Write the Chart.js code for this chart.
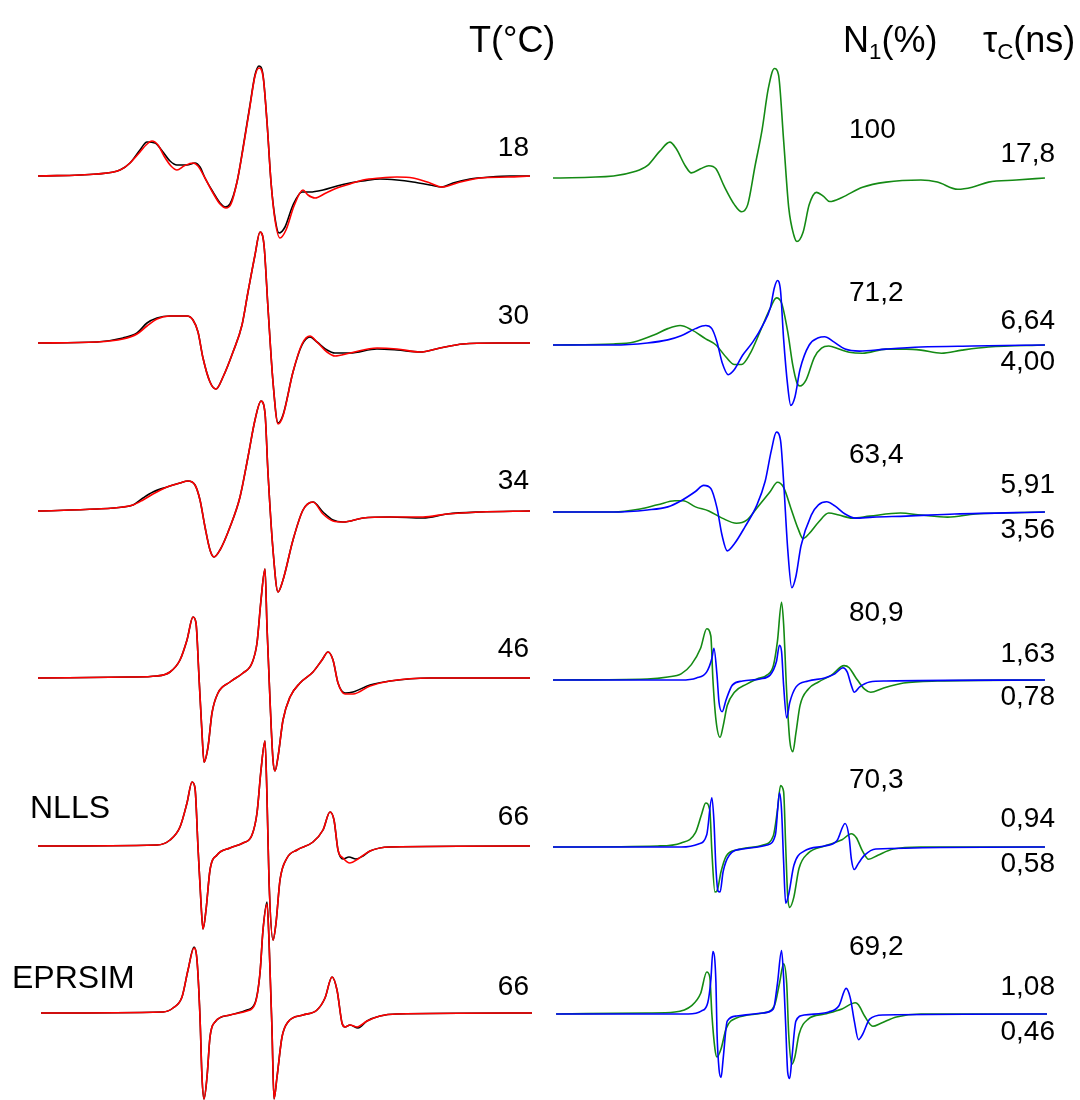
<!DOCTYPE html>
<html>
<head>
<meta charset="utf-8">
<script src="https://cdn.jsdelivr.net/npm/chart.js@4.4.1/dist/chart.umd.min.js"></script>
<style>
  html, body { margin: 0; padding: 0; background: #fff; }
  #fig { position: relative; width: 1080px; height: 1100px; overflow: hidden;
         font-family: "Liberation Sans", Arial, sans-serif; color: #000; }
  #fig canvas { position: absolute; }
  .lbl { position: absolute; line-height: 1; white-space: nowrap; }
  .sub { font-size: 0.62em; position: relative; top: 0.32em; line-height: 0; }
</style>
</head>
<body>
<div id="fig"></div>
<script>
// ---- Spectra: [field offset, amplitude] pairs, amplitude measured from each trace's baseline ----

// Left column: experimental (black) and simulated fit (red)
const exp18 = [[0,0],[59,2],[82,6],[92,13],[102,26],[109,34],[117,33],[125,24],[132,15],[139,11],[149,11],[157,13],[162,9],[167,-2],[175,-16],[182,-27],[187,-31],[192,-28],[199,-6],[205,28],[212,71],[217,101],[221,110],[225,101],[229,54],[233,-6],[237,-42],[241,-57],[247,-51],[255,-29],[264,-16],[272,-16],[285,-14],[299,-10],[312,-7],[325,-5],[342,-3],[359,-4],[375,-6],[392,-9],[404,-11],[415,-7],[432,-3],[452,-1],[472,0],[492,0]];
const fit18 = [[0,0],[59,2],[82,6],[92,13],[102,24],[108,31],[114,35],[120,31],[126,20],[133,10],[139,6],[146,10],[155,13],[160,10],[167,-2],[175,-17],[182,-28],[188,-32],[193,-28],[199,-6],[205,27],[212,70],[217,100],[221,108],[225,100],[229,54],[233,-6],[237,-44],[242,-62],[248,-54],[256,-30],[265,-14],[270,-19],[277,-22],[288,-17],[299,-12],[312,-8],[325,-4],[342,-2],[359,-1],[375,-2],[392,-7],[404,-11],[419,-7],[442,-2],[470,-1],[492,0]];

const exp30 = [[0,0],[59,1],[85,5],[99,10],[109,20],[119,25],[132,27],[149,27],[155,23],[160,11],[165,-15],[172,-39],[178,-46],[185,-34],[195,-9],[204,18],[210,51],[217,88],[222,111],[226,98],[230,35],[235,-39],[240,-80],[245,-72],[255,-29],[264,-2],[272,6],[279,1],[289,-7],[297,-10],[312,-10],[339,-6],[359,-7],[382,-9],[402,-5],[425,-1],[459,0],[492,0]];
const fit30 = [[0,0],[59,1],[85,4],[99,9],[109,17],[119,24],[132,27],[149,27],[155,23],[160,11],[165,-15],[172,-39],[178,-46],[185,-34],[195,-9],[204,18],[210,51],[217,88],[222,111],[226,98],[230,35],[235,-39],[240,-81],[245,-73],[255,-29],[264,-1],[272,7],[279,1],[289,-9],[297,-13],[312,-10],[339,-5],[359,-6],[382,-9],[402,-5],[425,-1],[459,0],[492,0]];

const exp34 = [[0,0],[59,2],[85,4],[95,6],[105,13],[115,19],[129,24],[142,28],[150,30],[157,26],[162,11],[167,-16],[172,-39],[176,-46],[182,-39],[192,-16],[202,14],[210,54],[217,91],[223,110],[227,98],[230,38],[235,-39],[240,-81],[245,-69],[255,-29],[265,1],[275,9],[285,-1],[295,-9],[305,-11],[325,-7],[352,-6],[385,-7],[409,-3],[442,-1],[492,0]];
const fit34 = [[0,0],[59,2],[85,4],[95,6],[105,11],[115,17],[129,24],[142,28],[150,30],[157,26],[162,11],[167,-16],[172,-39],[176,-46],[182,-39],[192,-16],[202,14],[210,54],[217,91],[223,110],[227,98],[230,38],[235,-39],[240,-81],[245,-69],[255,-29],[265,1],[275,9],[285,-3],[295,-10],[305,-11],[325,-7],[352,-6],[385,-6],[409,-3],[442,-1],[492,0]];

const exp46 = [[0,0],[92,1],[119,2],[132,6],[142,18],[149,38],[155,61],[158,55],[161,1],[164,-55],[166,-84],[170,-69],[174,-35],[180,-15],[192,-4],[205,5],[214,15],[219,35],[223,78],[227,109],[229,51],[232,-22],[235,-82],[237,-93],[240,-79],[245,-42],[252,-19],[262,-5],[275,6],[284,18],[290,26],[295,18],[300,-5],[307,-15],[315,-14],[332,-7],[352,-3],[392,0],[492,0]];
const fit46 = [[0,0],[92,1],[119,2],[132,6],[142,18],[149,38],[155,61],[158,55],[161,1],[164,-55],[166,-84],[170,-69],[174,-35],[180,-15],[192,-4],[205,5],[214,15],[219,35],[223,78],[227,109],[229,51],[232,-22],[235,-82],[237,-93],[240,-79],[245,-42],[252,-19],[262,-5],[275,6],[284,18],[290,26],[295,18],[300,-5],[307,-16],[315,-16],[332,-8],[352,-3],[392,0],[492,0]];

const exp66a = [[0,0],[119,1],[132,6],[142,19],[149,43],[154,64],[157,58],[160,-1],[163,-57],[165,-83],[168,-64],[172,-24],[179,-9],[192,-2],[205,3],[214,11],[219,33],[223,76],[227,105],[229,49],[231,-34],[235,-94],[238,-77],[242,-34],[249,-12],[259,-4],[275,4],[285,16],[292,34],[296,26],[300,-4],[305,-13],[311,-11],[318,-13],[325,-10],[332,-5],[352,-1],[492,0]];
const fit66a = [[0,0],[119,1],[132,6],[142,19],[149,43],[154,64],[157,58],[160,-1],[163,-57],[165,-83],[168,-64],[172,-24],[179,-9],[192,-2],[205,3],[214,11],[219,33],[223,76],[227,105],[229,49],[231,-34],[235,-94],[238,-77],[242,-34],[249,-12],[259,-4],[275,4],[285,16],[292,34],[296,26],[300,-4],[305,-12],[312,-17],[320,-13],[332,-5],[352,-1],[492,0]];

const exp66b = [[3,0],[125,1],[135,5],[144,16],[150,43],[156,66],[159,53],[162,-4],[164,-64],[166,-86],[169,-64],[172,-24],[177,-9],[192,-2],[209,3],[217,10],[222,40],[225,83],[229,111],[231,73],[234,-17],[236,-86],[239,-64],[244,-24],[250,-9],[265,-2],[279,3],[287,15],[294,36],[299,23],[304,-10],[307,-14],[312,-12],[320,-15],[329,-8],[342,-3],[359,-1],[494,0]];
const fit66b = [[3,0],[125,1],[135,5],[144,16],[150,43],[156,65],[159,53],[162,-4],[164,-64],[166,-86],[169,-64],[172,-24],[177,-9],[192,-2],[209,2],[217,9],[222,40],[225,83],[229,109],[231,73],[234,-17],[236,-86],[239,-64],[244,-24],[250,-9],[265,-2],[279,3],[287,15],[294,36],[299,23],[304,-10],[307,-14],[312,-12],[319,-14],[329,-8],[342,-3],[359,-1],[494,0]];

// Right column: slow component (green) and fast component (blue)
const slow18 = [[0,0],[59,2],[79,6],[92,12],[104,26],[114,35],[120,29],[129,12],[135,5],[144,9],[152,12],[159,9],[167,-8],[177,-26],[184,-33],[190,-26],[197,11],[204,47],[210,87],[216,107],[220,101],[225,37],[230,-29],[235,-56],[238,-62],[244,-53],[250,-26],[257,-14],[264,-18],[270,-23],[282,-19],[302,-9],[325,-4],[359,-2],[375,-4],[395,-11],[409,-9],[425,-4],[452,-2],[480,0]];

const slow30 = [[0,0],[59,1],[79,3],[99,10],[112,16],[124,19],[135,15],[149,6],[159,0],[169,-12],[177,-19],[184,-19],[192,-9],[202,13],[212,36],[218,46],[223,41],[229,13],[234,-20],[238,-37],[241,-40],[247,-34],[255,-12],[262,-3],[269,-1],[279,-4],[289,-7],[302,-8],[325,-4],[345,-4],[359,-5],[379,-8],[399,-5],[425,-2],[480,0]];
const fast30 = [[0,0],[59,0],[92,2],[112,5],[125,9],[139,16],[149,19],[155,16],[160,3],[165,-17],[171,-29],[177,-24],[185,-10],[195,3],[205,20],[212,36],[216,56],[219,63],[222,53],[225,6],[229,-40],[232,-59],[236,-51],[241,-24],[250,0],[259,7],[265,8],[274,3],[285,-4],[299,-6],[325,-4],[359,-2],[409,-1],[480,0]];

const slow34 = [[0,0],[59,0],[85,3],[102,7],[119,11],[127,11],[139,5],[152,1],[165,-6],[179,-11],[189,-8],[199,4],[212,20],[219,29],[225,24],[232,4],[239,-16],[244,-26],[250,-21],[259,-10],[269,-1],[279,-3],[292,-6],[309,-4],[339,-1],[359,-3],[385,-5],[412,-2],[480,0]];
const fast34 = [[0,0],[59,0],[92,2],[112,5],[125,11],[139,20],[147,26],[154,23],[160,4],[165,-23],[170,-38],[177,-31],[187,-15],[199,7],[207,30],[213,60],[218,78],[222,70],[225,30],[229,-36],[233,-74],[237,-63],[242,-33],[252,-3],[259,7],[267,10],[275,6],[285,-2],[295,-6],[312,-5],[345,-4],[392,-2],[480,0]];

const slow46 = [[0,0],[92,1],[112,3],[125,6],[135,15],[144,31],[150,50],[154,43],[156,1],[159,-39],[163,-56],[166,-45],[170,-25],[177,-12],[189,-4],[199,1],[209,5],[215,14],[219,38],[223,76],[225,55],[228,-12],[231,-59],[234,-70],[237,-52],[241,-25],[249,-9],[259,-2],[272,5],[284,14],[289,12],[295,3],[304,-9],[310,-12],[322,-8],[342,-3],[375,-1],[480,0]];
const fast46 = [[0,0],[125,0],[140,2],[150,8],[155,21],[157,31],[160,5],[162,-22],[165,-31],[169,-19],[175,-5],[185,-1],[202,1],[212,5],[218,18],[221,34],[223,28],[225,-5],[228,-37],[231,-22],[237,-7],[249,-1],[265,2],[275,6],[283,12],[287,8],[291,-5],[294,-12],[299,-7],[309,-2],[325,-1],[480,0]];

const slow66a = [[0,0],[102,1],[125,4],[139,14],[145,32],[149,43],[153,36],[155,-4],[158,-44],[160,-43],[164,-24],[169,-9],[179,-3],[205,2],[215,11],[219,36],[222,60],[225,54],[227,2],[229,-48],[231,-59],[235,-49],[240,-21],[249,-6],[265,1],[282,7],[291,13],[296,9],[302,-4],[308,-12],[317,-8],[332,-2],[359,0],[480,0]];
const fast66a = [[0,0],[125,0],[142,3],[150,12],[155,48],[157,26],[159,-21],[161,-43],[163,-44],[166,-24],[172,-8],[185,-2],[209,2],[217,12],[221,53],[223,36],[225,-14],[227,-55],[230,-46],[235,-18],[245,-4],[265,1],[277,6],[285,23],[289,9],[291,-11],[294,-22],[298,-16],[304,-8],[315,-2],[480,0]];

const slow66b = [[3,0],[92,1],[119,2],[135,8],[144,20],[150,41],[153,36],[155,0],[158,-34],[160,-42],[164,-34],[169,-14],[179,-4],[205,1],[216,8],[221,30],[225,49],[228,30],[230,-20],[233,-49],[236,-42],[240,-20],[249,-5],[265,0],[282,5],[295,11],[298,9],[304,-2],[312,-12],[320,-9],[335,-3],[359,0],[482,0]];
const fast66b = [[3,0],[132,0],[145,3],[151,11],[154,33],[156,61],[159,30],[160,-17],[162,-54],[164,-62],[166,-44],[170,-7],[179,-2],[205,1],[215,5],[219,30],[223,62],[225,36],[227,-10],[229,-57],[231,-63],[233,-44],[237,-7],[245,-1],[269,2],[279,8],[286,25],[290,16],[294,-7],[298,-25],[302,-20],[309,-5],[322,-1],[482,0]];

// ---- Row labels ----
const tempC = ['18', '30', '34', '46', '66', '66'];
const n1Pct = ['100', '71,2', '63,4', '80,9', '70,3', '69,2'];
const tauSlow = ['17,8', '6,64', '5,91', '1,63', '0,94', '1,08'];
const tauFast = [null, '4,00', '3,56', '0,78', '0,58', '0,46'];
const methodNames = ['NLLS', 'EPRSIM'];

// ---- Layout ----
const fig = document.getElementById('fig');
// each column: canvas left/width in px, field span, baselines, amplitude half-range
const LEFT_COL = { x: 38, w: 494, span: 494, half: 130,
                   base: [176, 343, 511, 678, 846, 1013] };
const RIGHT_COL = { x: 553, w: 494, span: 482, half: 127,
                    base: [178, 345, 512, 680, 847, 1014] };
const PANEL_H = 260;
const COL = { black: '#000000', red: '#ff0000', green: '#148a14', blue: '#0000ff' };

const leftRows = [[exp18, fit18], [exp30, fit30], [exp34, fit34], [exp46, fit46], [exp66a, fit66a], [exp66b, fit66b]];
const rightRows = [[slow18, null], [slow30, fast30], [slow34, fast34], [slow46, fast46], [slow66a, fast66a], [slow66b, fast66b]];

// order: lower value is painted on top
function traceSet(pts, color, order) {
  return {
    data: pts.map(p => ({ x: p[0], y: p[1] })),
    borderColor: color,
    borderWidth: 1.6,
    pointRadius: 0,
    fill: false,
    order: order,
    cubicInterpolationMode: 'monotone'
  };
}

function panel(col, base, sets) {
  const c = document.createElement('canvas');
  c.width = col.w; c.height = PANEL_H;
  c.style.left = col.x + 'px';
  c.style.top = (base - PANEL_H / 2) + 'px';
  c.style.width = col.w + 'px';
  c.style.height = PANEL_H + 'px';
  fig.appendChild(c);
  new Chart(c, {
    type: 'line',
    data: { datasets: sets },
    options: {
      responsive: false,
      animation: false,
      events: [],
      devicePixelRatio: 1,
      layout: { padding: 0 },
      plugins: { legend: { display: false }, tooltip: { enabled: false } },
      scales: {
        x: { type: 'linear', min: 0, max: col.span, display: false },
        y: { type: 'linear', min: -col.half, max: col.half, display: false }
      }
    }
  });
}

leftRows.forEach((r, i) => {
  panel(LEFT_COL, LEFT_COL.base[i], [traceSet(r[0], COL.black, 2), traceSet(r[1], COL.red, 1)]);
});
rightRows.forEach((r, i) => {
  const sets = [traceSet(r[0], COL.green, 2)];
  if (r[1]) sets.push(traceSet(r[1], COL.blue, 1));
  panel(RIGHT_COL, RIGHT_COL.base[i], sets);
});

// ---- Text ----
function addText(html, x, baseline, size, align) {
  const d = document.createElement('div');
  d.className = 'lbl';
  d.style.fontSize = size + 'px';
  d.innerHTML = html;
  d.style.top = (baseline - 0.8465 * size) + 'px';
  if (align === 'right') d.style.right = (1080 - x) + 'px';
  else d.style.left = x + 'px';
  fig.appendChild(d);
}

addText('T(°C)', 469, 52, 36, 'left');
addText('N<span class="sub">1</span>(%)', 843, 52, 36, 'left');
addText('τ<span class="sub">C</span>(ns)', 983, 52, 36, 'left');

const tempBase = [157, 325, 490, 658, 826, 996];
const n1Base = [139, 302, 464, 622, 789, 956];
const tauSBase = [163, 330, 494, 663, 828, 996];
const tauFBase = [null, 371, 539, 706, 873, 1041];

tempC.forEach((t, i) => addText(t, 529, tempBase[i], 28, 'right'));
n1Pct.forEach((t, i) => addText(t, 849, n1Base[i], 28, 'left'));
tauSlow.forEach((t, i) => addText(t, 1055, tauSBase[i], 28, 'right'));
tauFast.forEach((t, i) => { if (t) addText(t, 1055, tauFBase[i], 28, 'right'); });

addText(methodNames[0], 30, 818, 32, 'left');
addText(methodNames[1], 12, 988, 32, 'left');
</script>
</body>
</html>
